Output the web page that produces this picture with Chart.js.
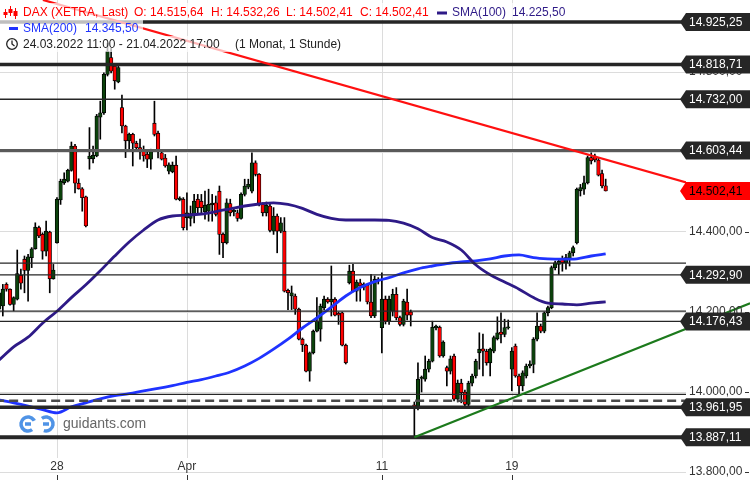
<!DOCTYPE html>
<html>
<head>
<meta charset="utf-8">
<script src="https://cdn.jsdelivr.net/npm/chart.js@4.4.1/dist/chart.umd.min.js"></script>
<style>
html, body { margin: 0; padding: 0; background: #fff; overflow: hidden; }
canvas { display: block; }
</style>
</head>
<body>
<canvas id="chart" width="750" height="480" style="width:750px;height:480px"></canvas>
<script>
// DAX (XETRA) 1h Kerzen, 24.03.2022 11:00 - 21.04.2022 17:00
const opens = [14207,14215,14269,14257,14219,14232,14292,14332,14304,14336,14358,14411,14394,14352,14400,14283,
  14373,14480,14523,14527,14554,14615,14522,14508,14488,
  14583,14583,14590,14687,14698,14794,14836,14815,14775,
  14711,14665,14628,14644,14622,14611,14602,14594,14582,
  14672,14647,14598,14585,14552,14551,14567,14481,14482,
  14436,14434,14440,14482,14477,14451,14452,14468,14473,
  14502,14394,14373,14471,14450,14448,14434,14494,14512,
  14502,14573,14544,14469,14448,14465,14402,14440,14402,
  14402,14254,14240,14240,14207,14132,14117,14052,14098,
  14152,14157,14211,14232,14225,14232,14197,14198,14117,
  14273,14302,14252,14273,14262,14267,14225,14190,14277,
  14161,14232,14177,14202,14244,14186,14169,14225,14200,
  13968,13962,14034,14032,14057,14077,14160,14162,14090,
  14061,14052,14090,13982,14022,14000,13969,14022,14040,
  14098,14108,14102,14073,14102,14133,14150,14144,14160,
  14057,14115,14040,14015,14040,14065,14069,14132,14165,
  14152,14198,14211,14311,14319,14332,14323,14332,14348,
  14373,14503,14507,14523,14586,14590,14580,14546,14515.64];
const highs = [14265,14269,14273,14258,14238,14355,14307,14340,14344,14361,14423,14415,14398,14427,14402,14319,
  14486,14532,14548,14557,14625,14619,14533,14511,14490,
  14661,14615,14694,14727,14798,14872,14860,14819,14815,
  14742,14667,14647,14647,14627,14632,14615,14600,14607,
  14727,14652,14600,14594,14573,14575,14590,14488,14486,
  14498,14465,14494,14494,14494,14502,14507,14494,14490,
  14515,14398,14483,14482,14457,14455,14498,14532,14532,
  14598,14578,14546,14473,14475,14470,14461,14445,14436,
  14436,14257,14265,14245,14210,14135,14120,14100,14155,
  14236,14220,14240,14236,14315,14236,14200,14200,14120,
  14317,14319,14280,14282,14273,14270,14294,14290,14286,
  14298,14240,14240,14257,14261,14190,14232,14257,14205,
  13975,14073,14040,14090,14082,14177,14167,14165,14128,
  14065,14090,14095,14030,14032,14005,14027,14045,14082,
  14148,14145,14107,14110,14140,14188,14198,14182,14180,
  14111,14120,14045,14053,14070,14078,14136,14198,14170,
  14200,14215,14315,14327,14332,14340,14344,14352,14365,
  14510,14519,14540,14590,14598,14595,14585,14555,14532.26];
const lows = [14198,14190,14252,14217,14203,14230,14257,14248,14227,14311,14357,14386,14332,14340,14248,14282,
  14372,14469,14519,14525,14552,14498,14507,14452,14413,
  14557,14573,14588,14632,14694,14790,14798,14757,14773,
  14648,14586,14607,14565,14607,14582,14577,14561,14557,
  14640,14585,14580,14562,14545,14548,14480,14478,14405,
  14405,14415,14423,14448,14448,14432,14427,14427,14440,
  14344,14336,14370,14440,14440,14427,14432,14490,14508,
  14498,14540,14465,14440,14440,14400,14394,14348,14398,
  14250,14206,14206,14194,14130,14101,14050,14027,14095,
  14150,14127,14205,14222,14190,14190,14169,14115,14070,
  14270,14250,14227,14227,14255,14220,14186,14186,14270,
  14098,14170,14169,14190,14180,14165,14165,14180,14165,
  13887,13955,14000,14027,14050,14075,14155,14087,14087,
  14015,14045,13978,13975,13973,13965,13965,14015,14035,
  14057,14040,14067,14040,14098,14130,14123,14138,14157,
  14003,14037,13995,14003,14035,14060,14048,14128,14148,
  14148,14190,14208,14305,14294,14302,14307,14315,14340,
  14370,14490,14494,14520,14570,14575,14540,14510,14502.41];
const closes = [14248,14257,14257,14219,14236,14296,14272,14304,14338,14358,14412,14390,14352,14402,14283,14305,
  14482,14527,14532,14554,14615,14522,14508,14486,14415,
  14590,14592,14690,14698,14794,14852,14802,14778,14811,
  14665,14628,14644,14622,14611,14602,14590,14582,14604,
  14644,14602,14582,14565,14568,14567,14482,14485,14411,
  14448,14446,14477,14461,14461,14467,14469,14472,14444,
  14394,14373,14473,14448,14454,14434,14494,14515,14519,
  14573,14544,14469,14448,14467,14404,14440,14402,14423,
  14252,14248,14248,14207,14132,14118,14052,14098,14152,
  14177,14215,14232,14225,14232,14192,14192,14117,14073,
  14302,14252,14275,14265,14270,14225,14190,14282,14282,
  14232,14177,14232,14244,14186,14169,14227,14192,14192,
  13962,14032,14037,14057,14077,14162,14165,14090,14125,
  14052,14083,13982,14022,13998,13969,14022,14040,14077,
  14107,14102,14073,14107,14136,14148,14144,14161,14163,
  14102,14040,14015,14048,14065,14070,14132,14165,14152,
  14198,14211,14311,14323,14327,14323,14336,14348,14361,
  14507,14511,14523,14586,14578,14580,14542,14515,14502.41];

const smaIdx = [0,4,8,12,16,20,24,28,32,36,40,44,48,52,56,60,64,68,72,76,80,84,88,92,96,100,104,108,112,116,120,124,128,132,136,140,144,148,152,156,160,164,168];
const sma100 = [14080,14113,14137,14172,14202,14236,14268,14303,14340,14375,14405,14430,14440,14442,14445,14451,14458,14465,14470,14473,14469,14459,14444,14434,14430,14430,14430,14429,14422,14408,14386,14375,14355,14318,14293,14275,14257,14236,14222,14220,14218,14222,14225.5];
const sma200 = [13980,13973,13965,13956,13948,13963,13973,13983,13991,13996,14003,14009,14016,14024,14031,14040,14050,14065,14084,14107,14132,14160,14185,14212,14240,14261,14276,14286,14298,14308,14315,14321,14325,14328,14333,14340,14343,14336,14333,14332,14333,14340,14345.5];

// Linien im Chart
const levelPrices = [14925.25, 14818.71, 14732.00, 14603.44, 14292.90, 14176.43, 13961.95, 13887.11];
const plainLines = [14322, 14202, 13994];
const dashedLine = 13978;
const lastPrice = 14502.41;
const trendRedIdx = [12.1, 190.3];
const trendRedPrice = [14980, 14524];
const trendGreenIdx = [115, 208];
const trendGreenPrice = [13887.11, 14222];

// Achsen
const xTickIdx = [16, 52, 106, 142];
const xTickLabels = ['28', 'Apr', '11', '19'];
const yTicks = [13800, 14000, 14200, 14400, 14600, 14800];

const FONT = '"Liberation Sans", Arial, sans-serif';
const levelWidth = [3.5, 3.5, 1.5, 3, 1.3, 1.3, 3.5, 4];
const levelColor = ['#262626', '#262626', '#262626', '#5a5a5a', '#262626', '#262626', '#262626', '#262626'];

function fmt(v) {
    const parts = v.toFixed(2).split('.');
    return parts[0].replace(/\B(?=(\d{3})+(?!\d))/g, '.') + ',' + parts[1];
}

function hline(v, color, width, dash) {
    return {
        type: 'line',
        data: [{ x: -5, y: v }, { x: 200, y: v }],
        borderColor: color,
        borderWidth: width,
        borderDash: dash || [],
        pointRadius: 0,
        order: 3
    };
}

const idx = opens.map((_, i) => i);

const datasets = [
    {
        type: 'bar',
        data: idx.map(i => ({ x: i, y: [lows[i], highs[i]] })),
        backgroundColor: '#000',
        barThickness: 1,
        grouped: false,
        order: 20
    },
    {
        type: 'bar',
        data: idx.map(i => ({ x: i, y: [opens[i], closes[i]] })),
        backgroundColor: idx.map(i => closes[i] >= opens[i] ? '#0b420b' : '#ff0000'),
        borderColor: '#000',
        borderWidth: 0.8,
        borderSkipped: false,
        barThickness: 3.6,
        grouped: false,
        order: 19
    },
    {
        type: 'line',
        data: smaIdx.map((v, k) => ({ x: v, y: sma100[k] })),
        borderColor: '#2e1a87',
        borderWidth: 2.8,
        pointRadius: 0,
        cubicInterpolationMode: 'monotone',
        order: 5
    },
    {
        type: 'line',
        data: smaIdx.map((v, k) => ({ x: v, y: sma200[k] })),
        borderColor: '#1f33ff',
        borderWidth: 2.8,
        pointRadius: 0,
        cubicInterpolationMode: 'monotone',
        order: 5
    }
];

levelPrices.forEach((v, k) => datasets.push(hline(v, levelColor[k], levelWidth[k])));
plainLines.forEach(v => datasets.push(hline(v, '#262626', 1.2)));
datasets.push(hline(dashedLine, '#4a4a4a', 2.5, [9, 5]));

datasets.push({
    type: 'line',
    data: trendRedIdx.map((v, k) => ({ x: v, y: trendRedPrice[k] })),
    borderColor: '#ff1010',
    borderWidth: 2.3,
    pointRadius: 0,
    order: 2
});
datasets.push({
    type: 'line',
    data: trendGreenIdx.map((v, k) => ({ x: v, y: trendGreenPrice[k] })),
    borderColor: '#1c7a1c',
    borderWidth: 2.2,
    pointRadius: 0,
    clip: false,
    order: 2
});

function tag(ctx, yPix, text, bg, fg) {
    ctx.beginPath();
    ctx.moveTo(680, yPix);
    ctx.lineTo(686, yPix - 9);
    ctx.lineTo(750, yPix - 9);
    ctx.lineTo(750, yPix + 9);
    ctx.lineTo(686, yPix + 9);
    ctx.closePath();
    ctx.fillStyle = bg;
    ctx.fill();
    ctx.fillStyle = fg;
    ctx.textAlign = 'left';
    ctx.textBaseline = 'middle';
    ctx.fillText(text, 689, yPix + 0.5);
}

const overlay = {
    id: 'overlay',
    beforeDatasetsDraw(chart) {
        const { ctx, chartArea, scales: { x } } = chart;
        ctx.save();
        ctx.strokeStyle = '#dcdcdc';
        ctx.lineWidth = 1;
        xTickIdx.forEach(i => {
            const px = Math.round(x.getPixelForValue(i)) + 0.5;
            ctx.beginPath();
            ctx.moveTo(px, chartArea.top);
            ctx.lineTo(px, 458);
            ctx.stroke();
        });
        ctx.restore();
    },
    afterDraw(chart) {
        const { ctx, scales: { x, y } } = chart;
        ctx.save();
        ctx.font = '12px ' + FONT;

        // y-Beschriftung
        ctx.fillStyle = '#333';
        ctx.textAlign = 'left';
        ctx.textBaseline = 'middle';
        yTicks.forEach(v => {
            const py = y.getPixelForValue(v);
            ctx.fillText(fmt(v), 689, py);
            ctx.fillRect(745, Math.round(py), 4, 1);
        });

        // x-Beschriftung
        ctx.textAlign = 'center';
        xTickIdx.forEach((i, k) => {
            const px = x.getPixelForValue(i);
            ctx.fillText(xTickLabels[k], px, 467);
            ctx.fillRect(Math.round(px), 475, 1, 5);
        });

        // Marken rechts
        levelPrices.forEach(v => tag(ctx, y.getPixelForValue(v), fmt(v), '#262626', '#fff'));
        tag(ctx, y.getPixelForValue(lastPrice), fmt(lastPrice), '#ff0000', '#000');

        // Legende
        ctx.fillStyle = 'rgba(255,255,255,0.7)';
        ctx.fillRect(0, 3, 572, 17);
        ctx.fillRect(0, 20, 143, 16);
        ctx.fillRect(0, 36, 343, 16);

        ctx.textAlign = 'left';
        ctx.textBaseline = 'middle';
        // Kerzen-Symbol
        ctx.fillStyle = '#ff0000';
        [[5, 10, 17], [10, 7, 15], [15, 9, 18]].forEach(([cx, t, b]) => {
            ctx.fillRect(cx, t - 1, 1, b - t + 2);
            ctx.fillRect(cx - 1.5, t + 2, 4, b - t - 4);
        });
        ctx.fillText('DAX (XETRA, Last)', 23, 13);
        ctx.fillText('O: ' + fmt(opens[opens.length - 1]), 134, 13);
        ctx.fillText('H: ' + fmt(highs[highs.length - 1]), 211, 13);
        ctx.fillText('L: ' + fmt(lows[lows.length - 1]), 286, 13);
        ctx.fillText('C: ' + fmt(closes[closes.length - 1]), 360, 13);
        ctx.fillStyle = '#2e1a87';
        ctx.fillRect(437, 11.5, 10, 3);
        ctx.fillText('SMA(100)', 452, 13);
        ctx.fillText(fmt(sma100[sma100.length - 1]), 512, 13);

        ctx.fillStyle = '#1f33ff';
        ctx.fillRect(9, 27, 9, 3);
        ctx.fillText('SMA(200)', 23, 29);
        ctx.fillText(fmt(sma200[sma200.length - 1]), 85, 29);

        ctx.strokeStyle = '#222';
        ctx.lineWidth = 1.3;
        ctx.beginPath();
        ctx.arc(12, 44, 5.3, 0, Math.PI * 2);
        ctx.stroke();
        ctx.beginPath();
        ctx.moveTo(12, 40.5);
        ctx.lineTo(12, 44);
        ctx.lineTo(14.5, 46);
        ctx.stroke();
        ctx.fillStyle = '#222';
        ctx.fillText('24.03.2022 11:00 - 21.04.2022 17:00', 23, 45);
        ctx.fillText('(1 Monat, 1 Stunde)', 235, 45);

        // Wasserzeichen
        ctx.strokeStyle = '#4f93e6';
        ctx.lineWidth = 3.5;
        ctx.beginPath();
        ctx.arc(28, 424, 7, 0.3 * Math.PI, 1.85 * Math.PI);
        ctx.stroke();
        ctx.beginPath();
        ctx.arc(46, 424, 7, -0.7 * Math.PI, 0.6 * Math.PI);
        ctx.stroke();
        ctx.beginPath();
        ctx.moveTo(25, 424); ctx.lineTo(31, 424);
        ctx.moveTo(43, 424); ctx.lineTo(49, 424);
        ctx.stroke();
        ctx.font = '14px ' + FONT;
        ctx.fillStyle = '#666';
        ctx.fillText('guidants.com', 63, 424);
        ctx.restore();
    }
};

new Chart(document.getElementById('chart'), {
    data: { datasets: datasets },
    options: {
        responsive: false,
        animation: false,
        layout: { padding: 0 },
        plugins: { legend: { display: false }, tooltip: { enabled: false } },
        scales: {
            x: { type: 'linear', min: 0.22, max: 190.25, offset: false, display: false },
            y: {
                position: 'right',
                min: 13780,
                max: 14980,
                afterBuildTicks: s => { s.ticks = yTicks.map(v => ({ value: v })); },
                afterFit: s => { s.width = 64; },
                grid: { color: '#dcdcdc', drawTicks: false },
                border: { display: false },
                ticks: { display: false }
            }
        }
    },
    plugins: [overlay]
});
</script>
</body>
</html>
